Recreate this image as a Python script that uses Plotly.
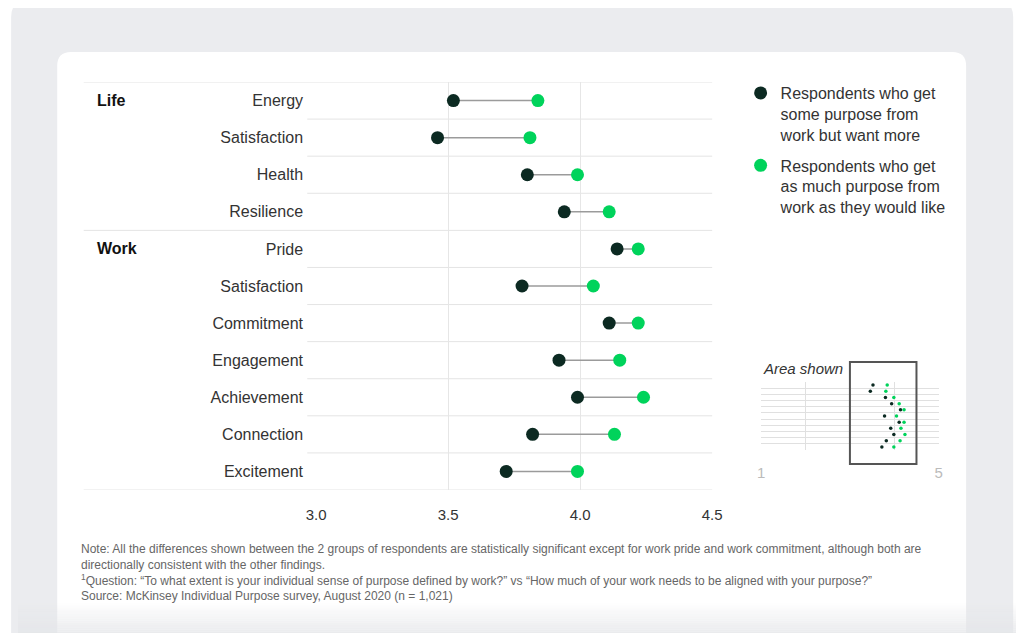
import plotly.graph_objects as go

W, H = 1024, 633
OFF = 8  # page body margin the browser adds around the figure

# data (mean scores, 1-5 scale)
categories = ["Energy", "Satisfaction", "Health", "Resilience",
              "Pride", "Satisfaction", "Commitment", "Engagement",
              "Achievement", "Connection", "Excitement"]
groups = ["Life", "Work"]
group_start = [0, 4]
want_more = [3.52, 3.46, 3.80, 3.94, 4.14, 3.78, 4.11, 3.92, 3.99, 3.82, 3.72]
as_much = [3.84, 3.81, 3.99, 4.11, 4.22, 4.05, 4.22, 4.15, 4.24, 4.13, 3.99]
x_ticks = [3.0, 3.5, 4.0, 4.5]
inset_ticks = [1, 5]
inset_minor = [2, 3, 4]

names = ["Respondents who get<br>some purpose from<br>work but want more",
         "Respondents who get<br>as much purpose from<br>work as they would like"]
DARK = "#0c2a22"
GREEN = "#00d35b"
FONT = "Liberation Sans, Arial, sans-serif"

rows = list(range(len(categories)))
bounds = [r - 0.5 for r in rows] + [rows[-1] + 0.5]


def px(x):
    return (x - OFF) / W


def py(y):
    return 1 - (y - OFF) / H


def rounded_rect(x0, y0, x1, y1, r):
    # pixel coords -> paper path, rounded corners via quadratic curves
    p = [
        f"M {px(x0 + r)} {py(y0)}",
        f"L {px(x1 - r)} {py(y0)}",
        f"Q {px(x1)} {py(y0)} {px(x1)} {py(y0 + r)}",
        f"L {px(x1)} {py(y1 - r)}",
        f"Q {px(x1)} {py(y1)} {px(x1 - r)} {py(y1)}",
        f"L {px(x0 + r)} {py(y1)}",
        f"Q {px(x0)} {py(y1)} {px(x0)} {py(y1 - r)}",
        f"L {px(x0)} {py(y0 + r)}",
        f"Q {px(x0)} {py(y0)} {px(x0 + r)} {py(y0)}",
        "Z",
    ]
    return " ".join(p)


fig = go.Figure()

# connecting lines
lx, ly = [], []
for r, a, b in zip(rows, want_more, as_much):
    lx += [a, b, None]
    ly += [r, r, None]
fig.add_trace(go.Scatter(x=lx, y=ly, mode="lines", showlegend=False,
                         line=dict(color="#9b9b9b", width=1.5), hoverinfo="skip"))

fig.add_trace(go.Scatter(x=want_more, y=rows, mode="markers", name=names[0],
                         legendgroup="more", marker=dict(color=DARK, size=13)))
fig.add_trace(go.Scatter(x=as_much, y=rows, mode="markers", name=names[1],
                         legendgroup="much", marker=dict(color=GREEN, size=13)))

# inset "area shown"
fig.add_trace(go.Scatter(x=want_more, y=rows, mode="markers", xaxis="x2", yaxis="y2",
                         showlegend=False, marker=dict(color=DARK, size=3.5)))
fig.add_trace(go.Scatter(x=as_much, y=rows, mode="markers", xaxis="x2", yaxis="y2",
                         showlegend=False, marker=dict(color=GREEN, size=3.5)))

shapes = []
# page background and card
shapes.append(dict(type="path", xref="paper", yref="paper", layer="below",
                   path=rounded_rect(1, 1, 1023, 720, 16),
                   fillcolor="#ebecef", line=dict(width=0)))
shapes.append(dict(type="path", xref="paper", yref="paper", layer="below",
                   path=rounded_rect(48, 52, 975, 720, 14),
                   fillcolor="white", line=dict(width=0)))
# fade at bottom
for i in range(14):
    y0 = 603 + i * 2.2
    shapes.append(dict(type="rect", xref="paper", yref="paper", layer="below",
                       x0=0, x1=1, y0=py(y0 + 2.2), y1=py(y0),
                       fillcolor="#e4e5e8", opacity=0.05 + i * 0.055,
                       line=dict(width=0)))

# row separators
for b in bounds:
    full = b in [g - 0.5 for g in group_start] or b == bounds[-1]
    shapes.append(dict(type="line", xref="paper", yref="y",
                       x0=px(75) if full else px(303), x1=px(716),
                       y0=b, y1=b, layer="below",
                       line=dict(color="#e4e4e4", width=1)))

# box around shown area in inset
shapes.append(dict(type="rect", xref="x2", yref="paper",
                   x0=x_ticks[0], x1=x_ticks[-1], y0=py(464), y1=py(362),
                   line=dict(color="#555555", width=2)))

annotations = []
for g, s in zip(groups, group_start):
    annotations.append(dict(text=f"<b>{g}</b>", x=px(87), y=s, xref="paper", yref="y",
                            xanchor="left", yanchor="middle", showarrow=False,
                            font=dict(size=16, color="#111111", family=FONT)))

annotations.append(dict(text="<i>Area shown</i>", x=px(766), y=py(368), xref="paper",
                        yref="paper", xanchor="left", yanchor="middle", showarrow=False,
                        font=dict(size=15, color="#333333", family=FONT)))

notes = [
    ("Note: All the differences shown between the 2 groups of respondents are statistically "
     "significant except for work pride and work commitment, although both are<br>"
     "directionally consistent with the other findings.", 557),
    ("<sup>1</sup>Question: \u201cTo what extent is your individual sense of purpose defined by "
     "work?\u201d vs \u201cHow much of your work needs to be aligned with your purpose?\u201d", 580),
    ("Source: McKinsey Individual Purpose survey, August 2020 (n = 1,021)", 596),
]
for t, y in notes:
    annotations.append(dict(text=t, x=px(70), y=py(y), xref="paper", yref="paper",
                            xanchor="left", yanchor="middle", align="left",
                            showarrow=False,
                            font=dict(size=12, color="#666666", family=FONT)))

fig.update_layout(
    width=W, height=H,
    margin=dict(l=0, r=0, t=0, b=0),
    paper_bgcolor="white",
    plot_bgcolor="rgba(0,0,0,0)",
    font=dict(family=FONT, color="#333333"),
    showlegend=True,
    legend=dict(x=px(745), y=py(76), xanchor="left", yanchor="top",
                valign="top", tracegroupgap=7, bgcolor="rgba(0,0,0,0)",
                font=dict(size=16, color="#333333", family=FONT)),
    xaxis=dict(domain=[px(312), px(716)], range=[3.0, 4.5], tickvals=x_ticks,
               ticktext=[f"{v:.1f}" for v in x_ticks],
               showgrid=True, gridcolor="#e6e6e6", gridwidth=1,
               zeroline=False, showline=False, ticks="",
               ticklabelstandoff=14, tickfont=dict(size=15, color="#333333")),
    yaxis=dict(domain=[py(490), py(82)], range=[bounds[-1], bounds[0]],
               tickvals=rows, ticktext=categories, showgrid=False,
               zeroline=False, showline=False, ticks="",
               ticklabelstandoff=12, tickfont=dict(size=16, color="#333333")),
    xaxis2=dict(domain=[px(766), px(947)], range=[1, 5], anchor="y2",
                tickvals=inset_ticks, ticktext=[str(v) for v in inset_ticks],
                showgrid=True, gridcolor="#e0e0e0", zeroline=False, showline=False,
                ticks="", ticklabelstandoff=12,
                minor=dict(tickvals=inset_minor, showgrid=True, gridcolor="#e0e0e0",
                           ticks=""),
                tickfont=dict(size=15, color="#bbbbbb")),
    yaxis2=dict(domain=[py(450), py(382)], range=[bounds[-1], bounds[0]], anchor="x2",
                tickvals=bounds, showticklabels=False, showgrid=True,
                gridcolor="#e0e0e0", zeroline=False, showline=False, ticks=""),
    shapes=shapes,
    annotations=annotations,
)

fig.write_html("out.html")
